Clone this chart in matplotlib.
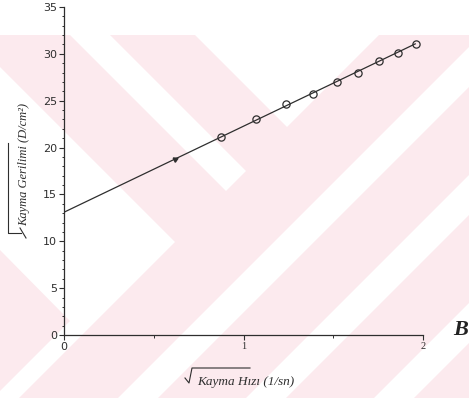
import numpy as np
import matplotlib.pyplot as plt
from matplotlib.patches import Polygon

# olculen noktalar (karekok kayma hizi, karekok kayma gerilimi)
kayma_hizi = [0.875, 1.071, 1.237, 1.385, 1.519, 1.638, 1.753, 1.861, 1.96]
kayma_gerilimi = [21.1, 23.05, 24.6, 25.7, 27.0, 27.96, 29.2, 30.06, 31.1]

# dogrusal uyum: kesim ve egim
kesim = 13.1
egim = 9.18
uyum_x = [0.0, 1.96]
ok_x = 0.62

y_ticks = [0, 5, 10, 15, 20, 25, 30, 35]
x_ticks = [0, 1, 2]

W, H = 469, 398
fig = plt.figure(figsize=(W / 100, H / 100), dpi=100)

# arka plandaki soluk pembe filigran seritleri (piksel koordinatlari)
bg = fig.add_axes([0, 0, 1, 1], zorder=-1)
bg.set_xlim(0, W)
bg.set_ylim(H, 0)
bg.axis("off")
pembe = "#fceaee"
bg.add_patch(Polygon([(0, 35), (W, 35), (W, H), (0, H)], closed=True, fc=pembe, ec="none"))
beyazlar = [
    [(70, 35), (110, 35), (246, 171), (226, 191)],
    [(195, 35), (379, 35), (287, 127)],
    [(0, 67), (175, 242), (19, 398), (0, 398), (0, 391), (70, 321), (0, 250)],
]
for a in [516, 644, 772]:
    b = a + 40
    beyazlar.append([(a - 35, 35), (b - 35, 35), (b - 398, 398), (a - 398, 398)])
for p in beyazlar:
    bg.add_patch(Polygon(p, closed=True, fc="white", ec="none"))

ax = fig.add_axes([64 / W, 1 - 335 / H, (423 - 64) / W, (335 - 7) / H])
ax.set_facecolor("none")
ax.set_xlim(0, 2)
ax.set_ylim(0, 35)

koyu = "#2e2e2e"
fx = np.array(uyum_x)
ax.plot(fx, kesim + egim * fx, color=koyu, lw=0.9, solid_capstyle="butt")
ax.plot(kayma_hizi, kayma_gerilimi, "o", mfc="none", mec=koyu, ms=5.2, mew=0.9)
ax.plot([ok_x], [kesim + egim * ok_x], marker=(3, 0, -64), color=koyu, ms=4, ls="none")

for s in ["top", "right"]:
    ax.spines[s].set_visible(False)
for s in ["left", "bottom"]:
    ax.spines[s].set_color(koyu)
    ax.spines[s].set_linewidth(0.9)

ax.set_yticks(y_ticks)
ax.set_yticks(np.arange(0, 36, 1), minor=True)
ax.set_xticks(x_ticks)
ax.set_xticks([0.5, 1.5], minor=True)
ax.tick_params(axis="both", which="major", direction="out", length=3.5, width=0.8,
               color=koyu, pad=1.5)
ax.tick_params(axis="both", which="minor", direction="out", length=1.8, width=0.7,
               color=koyu)
ax.set_yticklabels([str(v) for v in y_ticks], fontfamily="DejaVu Sans", fontsize=8, color=koyu)
ax.set_xticklabels([str(v) for v in x_ticks], fontsize=7.5, color=koyu)
for i, lab in enumerate(ax.get_xticklabels()):
    lab.set_fontfamily("DejaVu Sans" if i == 0 else "Liberation Serif")
    if i == 0:
        lab.set_fontsize(8)

# eksen basliklari ve elle cizilmis karekok isaretleri
fig.text(246 / W, 1 - 382 / H, "Kayma H\u0131z\u0131 (1/sn)", fontfamily="Liberation Serif",
         style="italic", fontsize=9.5, color=koyu, ha="center", va="center")
bg.plot([185, 189, 192, 250], [378, 383, 368, 368], color=koyu, lw=0.8)

fig.text(24 / W, 1 - 165 / H, "Kayma Gerilimi (D/cm\u00b2)", fontfamily="Liberation Serif",
         style="italic", fontsize=9, color=koyu, ha="center", va="center", rotation=90)
bg.plot([8, 8, 21], [143, 233, 233], color=koyu, lw=0.8)
bg.plot([20, 26], [228, 238], color=koyu, lw=0.8)

fig.text(461 / W, 1 - 330 / H, "B", fontfamily="Liberation Serif", style="italic",
         fontweight="bold", fontsize=16, color="#222222", ha="center", va="center")

fig.savefig("out.png", dpi=100)
